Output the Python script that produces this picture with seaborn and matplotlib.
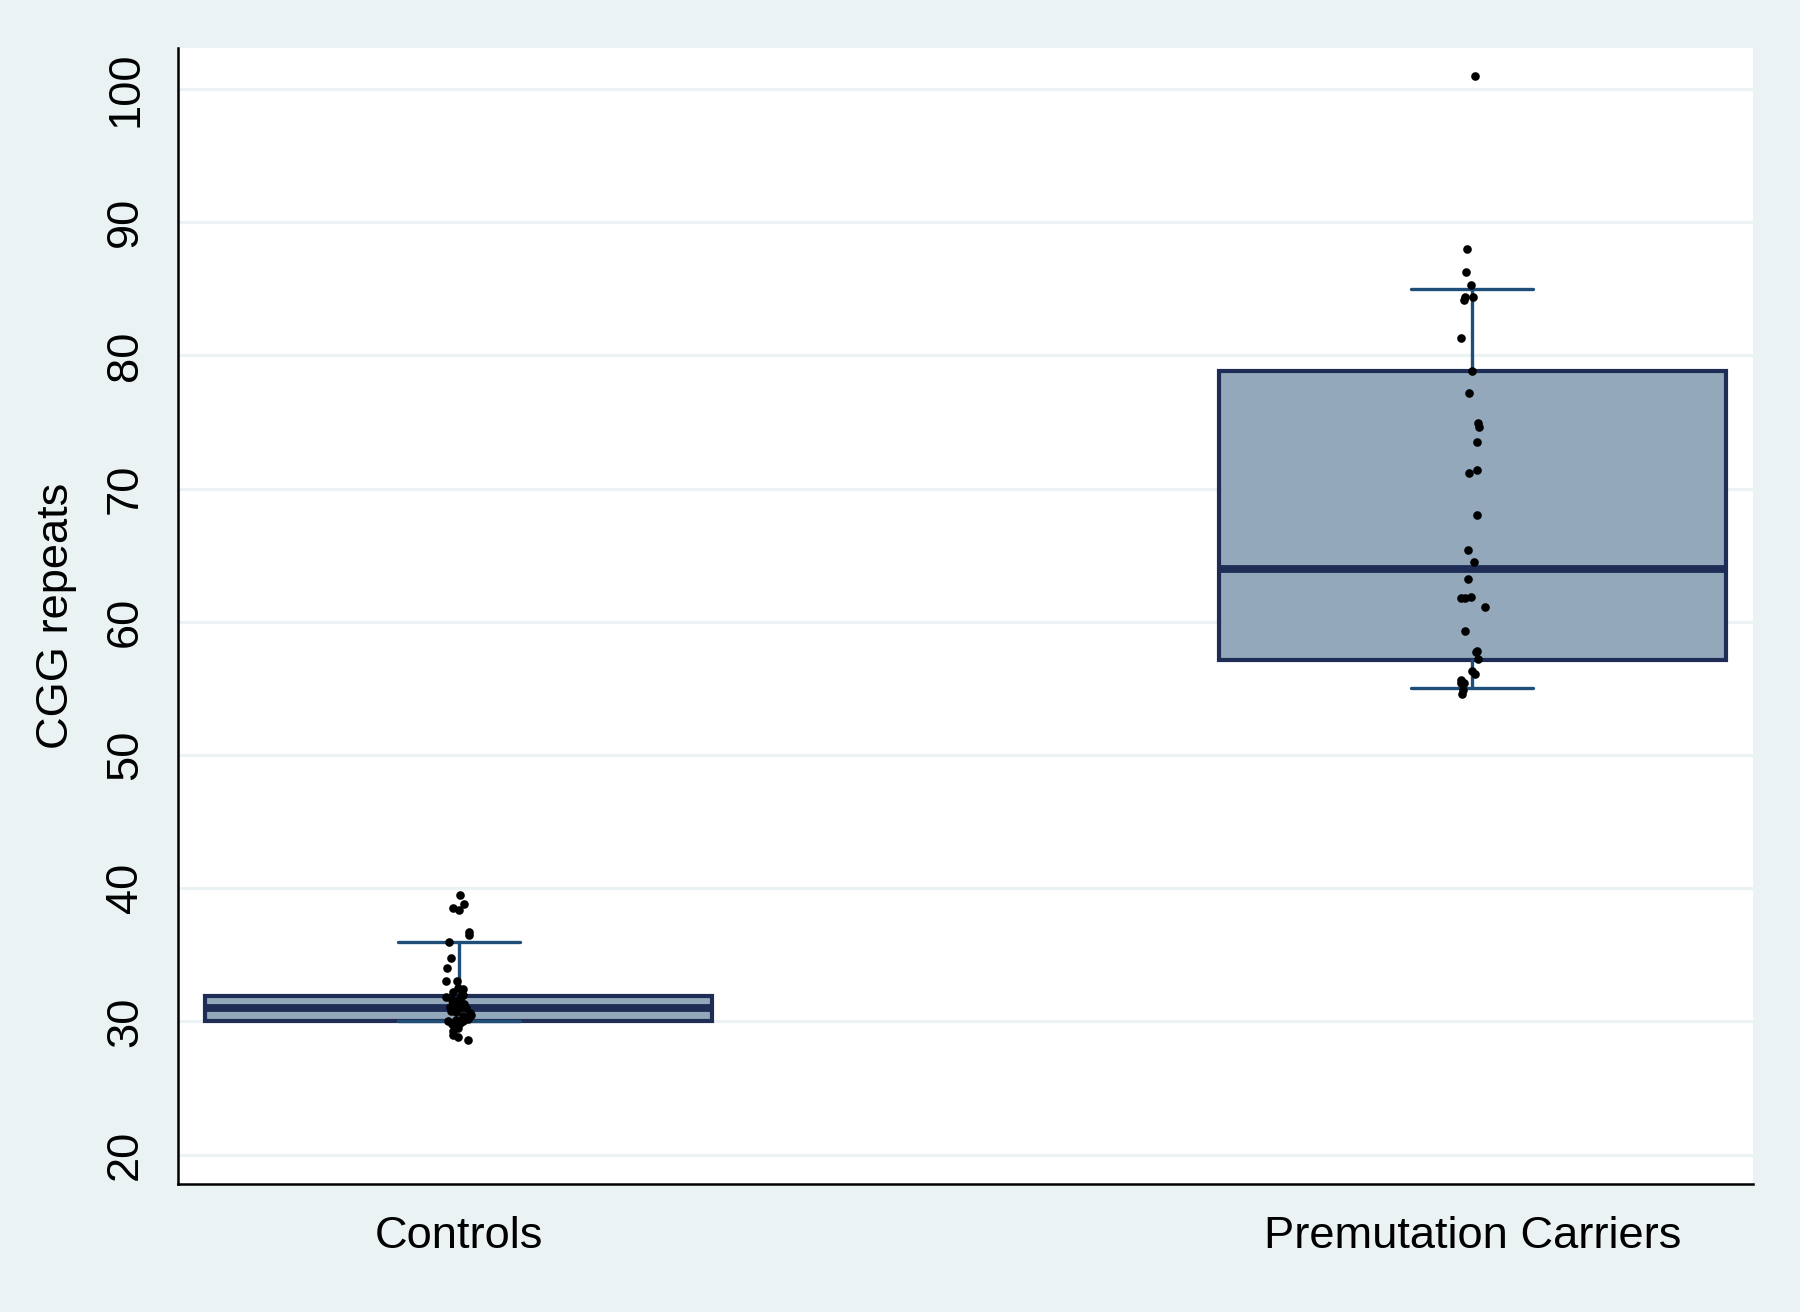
import numpy as np
import pandas as pd
import matplotlib
matplotlib.use("Agg")
import matplotlib.pyplot as plt
import seaborn as sns

groups = ["Controls", "Premutation Carriers"]

controls = [39.5, 38.8, 38.5, 38.4, 36.7, 36.5, 36.0, 34.8, 34.0, 33.0, 33.0,
            32.5, 32.4, 32.2, 32.0, 31.9, 31.8, 31.7, 31.6, 31.5, 31.4, 31.3,
            31.2, 31.1, 31.0, 31.0, 30.9, 30.8, 30.7, 30.6, 30.5, 30.4, 30.3,
            30.2, 30.1, 30.0, 30.0, 29.9, 29.9, 29.8, 29.6, 29.5, 29.3, 29.0,
            28.8, 28.6]
carriers = [101.0, 88.0, 86.3, 85.3, 84.4, 84.2, 84.4, 81.3, 78.8, 77.2, 74.9,
            74.6, 73.5, 71.4, 71.2, 68.0, 65.4, 64.5, 63.2, 61.9, 61.8, 61.8,
            61.1, 59.3, 57.8, 57.7, 57.2, 56.3, 56.1, 55.4, 55.6, 55.4, 54.9,
            54.6]

# box summary (as drawn in the original)
q1 = [30.0, 57.1]
med = [31.0, 64.0]
q3 = [31.9, 78.8]
whislo = [30.0, 55.0]
whishi = [36.0, 85.0]

yticks = [20, 30, 40, 50, 60, 70, 80, 90, 100]

bg = "#EAF2F3"
box_fill = "#93A8BA"
box_edge = "#1E2C56"
whisk_col = "#1F4E79"

df = pd.DataFrame({
    "group": [groups[0]] * len(controls) + [groups[1]] * len(carriers),
    "cgg": controls + carriers,
})

sns.set_style("white")
plt.rcParams["font.family"] = ["Liberation Sans", "DejaVu Sans"]

fig = plt.figure(figsize=(9, 6.56), dpi=200, facecolor=bg)
ax = fig.add_axes([0.0989, 0.0976, 0.875, 0.866])
ax.set_facecolor("white")

stats = []
for i, g in enumerate(groups):
    stats.append({"label": g, "q1": q1[i], "med": med[i], "q3": q3[i],
                  "whislo": whislo[i], "whishi": whishi[i], "fliers": []})

ax.bxp(stats, positions=[0, 1], widths=0.5, capwidths=0.12,
       patch_artist=True, manage_ticks=False, showfliers=False,
       boxprops=dict(facecolor=box_fill, edgecolor=box_edge, linewidth=1.5),
       medianprops=dict(color=box_edge, linewidth=2.8),
       whiskerprops=dict(color=whisk_col, linewidth=1.2),
       capprops=dict(color=whisk_col, linewidth=1.2), zorder=2)

np.random.seed(3)
sns.stripplot(data=df, x="group", y="cgg", order=groups, jitter=0.013,
              color="black", size=3.1, linewidth=0, ax=ax, zorder=3)

ax.set_xlim(-0.277, 1.277)
ax.set_ylim(17.8, 103.1)
ax.set_yticks(yticks)
ax.set_yticklabels([str(t) for t in yticks], rotation=90, va="center")
ax.yaxis.grid(True, color=bg, linewidth=1.1, zorder=0)
ax.set_axisbelow(True)

for s in ["top", "right"]:
    ax.spines[s].set_visible(False)
for s in ["left", "bottom"]:
    ax.spines[s].set_color("black")
    ax.spines[s].set_linewidth(0.9)

ax.tick_params(axis="both", direction="out", length=6.5, width=0.9,
               color="black", labelsize=16.3, labelcolor="black")
ax.tick_params(axis="y", pad=5)
ax.tick_params(axis="x", pad=5)
ax.set_xlabel("")
ax.set_ylabel("CGG repeats", fontsize=16.3, color="black", labelpad=10)

fig.savefig("out.png", dpi=200, facecolor=bg)
